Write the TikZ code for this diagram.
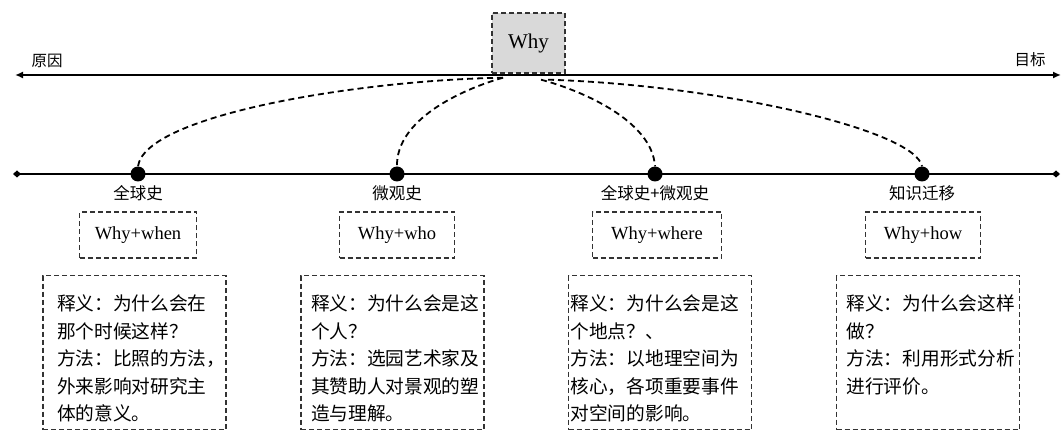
\documentclass[tikz,border=0pt]{standalone}
\usepackage{fontspec}
\setmainfont{Liberation Serif}
\newfontfamily\cjk{Noto Sans CJK SC}
\usepackage{tikz}
\usetikzlibrary{arrows.meta, positioning}

\begin{document}
\begin{tikzpicture}[
  x=1pt, y=-1pt,
  dashbox/.style={draw=black!80, dash pattern=on 5pt off 3pt, line width=1.4pt},
  whybox/.style={dashbox, minimum width=115pt, minimum height=46pt, inner xsep=15pt, font=\fontsize{18.5}{20}\selectfont},
  infobox/.style={dashbox, anchor=north, text width=163pt, minimum width=183pt, align=left,
    inner xsep=0pt, inner ysep=10pt, text height=25pt, text depth=109pt, font=\cjk\fontsize{18.7}{27.5}\selectfont},
  milestone/.style={circle, fill=black, minimum size=15pt, inner sep=0pt},
  mlabel/.style={font=\cjk\fontsize{16.5}{18}\selectfont},
  link/.style={dash pattern=on 6pt off 4pt, line width=1.8pt},
  axis/.style={line width=2pt}]

  \useasboundingbox (0,0) rectangle (1062,430);

  % top axis: cause -> goal
  \coordinate (cause) at (15,75);
  \coordinate (goal) at (1061,75);
  \draw[axis, {Latex[length=8pt,width=7pt]}-{Latex[length=8pt,width=7pt]}] (cause) -- (goal);
  \node[mlabel, font=\cjk\fontsize{15.5}{17}\selectfont] (causelab) at (47,61) {原因};
  \node[mlabel, font=\cjk\fontsize{15.5}{17}\selectfont] (goallab) at (1030,60) {目标};

  \node[dashbox, fill=black!15, minimum width=73pt, minimum height=60pt, font=\fontsize{21}{22}\selectfont] (why) at (528.5,43) {Why};

  % lower axis with the four stops
  \coordinate (lowl) at (13,174);
  \coordinate (lowr) at (1060,174);
  \draw[axis, {Diamond[length=8pt,width=7pt]}-{Diamond[length=8pt,width=7pt]}] (lowl) -- (lowr);

  \node[milestone] (global) at (138,174) {};
  \node[milestone] (micro) at (397,174) {};
  \node[milestone] (both) at (655,174) {};
  \node[milestone] (transfer) at (922,174) {};

  \node[mlabel, below=0pt of global] (globallab) {全球史};
  \node[mlabel, below=0pt of micro] (microlab) {微观史};
  \node[mlabel, below=0pt of both] (bothlab) {全球史+微观史};
  \node[mlabel, below=0pt of transfer] (transferlab) {知识迁移};

  % dashed links from Why
  \draw[link] ([xshift=-25.5pt,yshift=-4pt]why.south) .. controls (360,80) and (145,115) .. (global.north);
  \draw[link] ([xshift=-25.5pt,yshift=-4pt]why.south) .. controls (460,90) and (396,120) .. (micro.north);
  \draw[link] ([xshift=12.5pt,yshift=-6pt]why.south) .. controls (580,90) and (652,120) .. (both.north);
  \draw[link] ([xshift=19.5pt,yshift=-6pt]why.south) .. controls (720,85) and (915,130) .. (transfer.north);

  \node[whybox] (whywhen) at (138,235) {Why+when};
  \node[whybox] (whywho) at (397,235) {Why+who};
  \node[whybox, minimum width=129pt] (whywhere) at (657,235) {Why+where};
  \node[whybox] (whyhow) at (923,235) {Why+how};

  \node[infobox, text width=155pt] (whenbox) at (134.5,275) {释义：为什么会在\\那个时候这样？\\方法：比照的方法，\\外来影响对研究主\\体的意义。};
  \node[infobox] (whobox) at (392.5,275) {释义：为什么会是这\\个人？\\方法：选园艺术家及\\其赞助人对景观的塑\\造与理解。};
  \node[infobox, text width=179pt] (wherebox) at (660,275) {释义：为什么会是这\\个地点？、\\方法：以地理空间为\\核心，各项重要事件\\对空间的影响。};
  \node[infobox] (howbox) at (928,275) {释义：为什么会这样\\做？\\方法：利用形式分析\\进行评价。};
\end{tikzpicture}
\end{document}
